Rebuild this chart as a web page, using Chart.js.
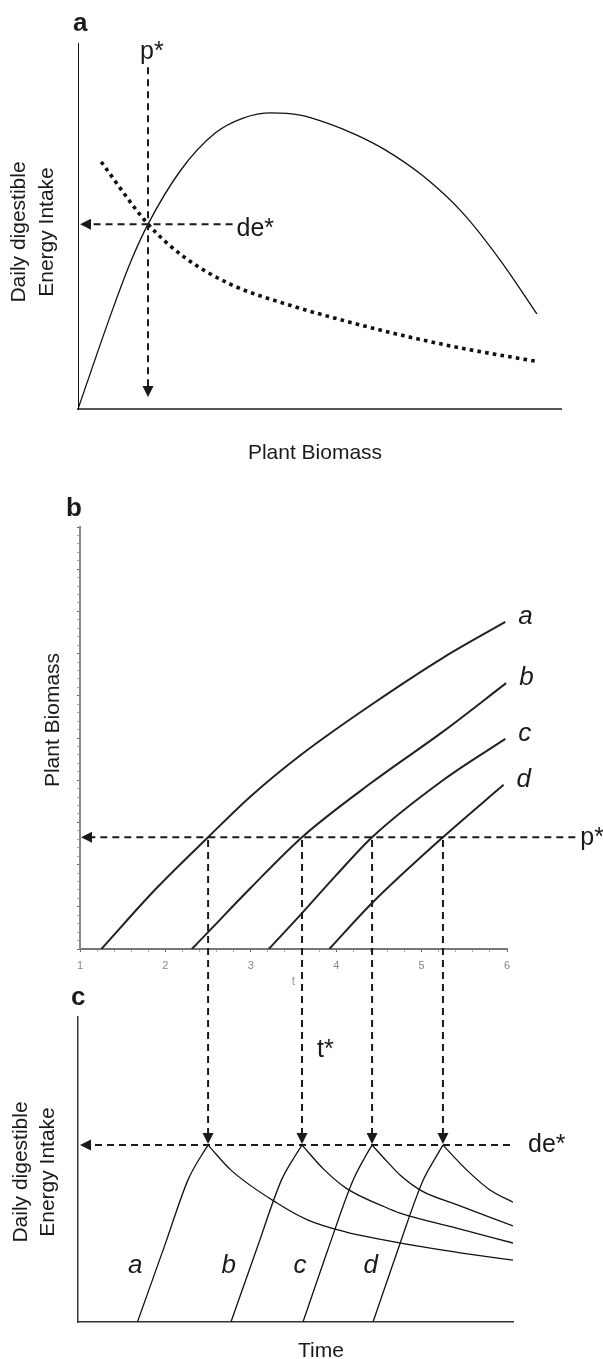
<!DOCTYPE html>
<html>
<head>
<meta charset="utf-8">
<title>Plant biomass and daily digestible energy intake</title>
<script src="https://cdn.jsdelivr.net/npm/chart.js@4.4.1/dist/chart.umd.min.js"></script>
<style>
  html, body { margin: 0; padding: 0; background: #fff; }
  #page { position: relative; width: 603px; height: 1359px; overflow: hidden; }
  #page canvas { position: absolute; left: 0; }
</style>
</head>
<body>
<div id="page">
  <canvas id="chartA" width="603" height="470" style="top:0px"></canvas>
  <canvas id="chartB" width="603" height="530" style="top:470px"></canvas>
  <canvas id="chartC" width="603" height="399" style="top:960px"></canvas>
</div>
<script>
const FONT = "'Liberation Sans', Arial, Helvetica, sans-serif";
const INK = '#1a1a1a';

// panel a: energy intake against plant biomass (arbitrary units)
const biomassSolid  = [0, 0.725, 1.1, 1.45, 2.13, 2.84, 3.42, 4.0, 4.6, 5.16, 5.76, 6.36, 7.14, 7.95, 8.74, 9.5];
const intakeSolid   = [0, 2.75, 4.05, 5.05, 6.53, 7.54, 7.95, 8.09, 8.03, 7.81, 7.49, 7.08, 6.37, 5.38, 4.07, 2.6];
const biomassDotted = [0.48, 1.45, 2.2, 3.17, 4.35, 5.55, 6.75, 7.95, 9.5];
const intakeDotted  = [6.75, 5.05, 4.15, 3.4, 2.85, 2.4, 2.0, 1.66, 1.3];
const pStar = 1.45;
const deStar = 5.05;

// panel b: plant biomass regrowth over time t, four cohorts
const growthLetters = ['a', 'b', 'c', 'd'];
const growthT = [
  [1.25, 1.9, 2.5, 3.0, 3.6, 4.42, 5.25, 5.98],
  [2.31, 2.5, 3.0, 3.6, 4.42, 5.25, 5.99],
  [3.21, 3.6, 4.0, 4.42, 5.25, 5.98],
  [3.92, 4.42, 5.25, 5.96]
];
const growthBiomass = [
  [0, 1.45, 2.65, 3.62, 4.62, 5.8, 6.9, 7.75],
  [0, 0.4, 1.45, 2.65, 3.95, 5.15, 6.3],
  [0, 0.85, 1.75, 2.65, 4.0, 4.98],
  [0, 1.09, 2.65, 3.89]
];
const pStarB = 2.65;
const dropTimes = [2.5, 3.6, 4.42, 5.25];

// panel c: daily digestible energy intake, rise then decline after t*
const riseT = [
  [1.673, 2.0, 2.265, 2.42, 2.5],
  [2.768, 3.07, 3.36, 3.52, 3.6],
  [3.611, 3.9, 4.19, 4.34, 4.42],
  [4.431, 4.72, 5.01, 5.17, 5.25]
];
const riseIntake = [
  [0, 2.57, 4.66, 5.45, 5.8],
  [0, 2.4, 4.66, 5.45, 5.8],
  [0, 2.35, 4.6, 5.42, 5.8],
  [0, 2.35, 4.6, 5.42, 5.8]
];
const declineT = [
  [2.5, 2.768, 3.307, 3.67, 4.115, 4.6, 5.016, 5.473, 6.07],
  [3.6, 3.85, 4.115, 4.57, 4.747, 5.41, 6.07],
  [4.42, 4.6, 4.747, 5.0, 5.41, 6.07],
  [5.25, 5.53, 5.8, 6.07]
];
const declineIntake = [
  [5.8, 4.98, 3.9, 3.34, 2.95, 2.67, 2.46, 2.26, 2.03],
  [5.8, 5.02, 4.39, 3.77, 3.57, 3.08, 2.59],
  [5.8, 5.25, 4.82, 4.3, 3.85, 3.15],
  [5.8, 4.98, 4.33, 3.93]
];
const deStarC = 5.8;

const B_TOP = 470, C_TOP = 960, SEAM = 985;

function toPoints(xs, ys) {
  return xs.map((x, i) => ({ x: x, y: ys[i] }));
}

function curve(xs, ys, extra) {
  return Object.assign({
    data: toPoints(xs, ys),
    showLine: true,
    pointRadius: 0,
    borderColor: '#111',
    borderWidth: 1.3,
    cubicInterpolationMode: 'monotone',
    fill: false
  }, extra);
}

function isWhole(v) {
  return Math.abs(v - Math.round(v)) < 1e-6;
}

function sizeTo(px) {
  return function (scale) {
    if (scale.isHorizontal()) scale.height = px; else scale.width = px;
  };
}

function plainAxis(min, max, border) {
  return {
    type: 'linear', min: min, max: max,
    grid: { display: false, drawTicks: false },
    ticks: { display: false },
    border: border,
    afterFit: sizeTo(0)
  };
}

function dashed(ctx, x1, y1, x2, y2, offset) {
  ctx.save();
  ctx.strokeStyle = INK;
  ctx.lineWidth = 2;
  ctx.setLineDash([7, 5]);
  ctx.lineDashOffset = offset || 0;
  ctx.beginPath();
  ctx.moveTo(x1, y1);
  ctx.lineTo(x2, y2);
  ctx.stroke();
  ctx.restore();
}

function arrowHead(ctx, x, y, dir) {
  const L = 11, W = 5.5;
  ctx.save();
  ctx.fillStyle = INK;
  ctx.beginPath();
  ctx.moveTo(x, y);
  if (dir === 'left') {
    ctx.lineTo(x + L, y - W);
    ctx.lineTo(x + L, y + W);
  } else {
    ctx.lineTo(x - W, y - L);
    ctx.lineTo(x + W, y - L);
  }
  ctx.closePath();
  ctx.fill();
  ctx.restore();
}

function label(ctx, str, x, y, size, style, align) {
  ctx.save();
  ctx.font = (style || '') + ' ' + size + 'px ' + FONT;
  ctx.fillStyle = INK;
  ctx.textAlign = align || 'left';
  ctx.textBaseline = 'alphabetic';
  ctx.fillText(str, x, y);
  ctx.restore();
}

function vlabel(ctx, str, x, y, size) {
  ctx.save();
  ctx.translate(x, y);
  ctx.rotate(-Math.PI / 2);
  ctx.font = size + 'px ' + FONT;
  ctx.fillStyle = INK;
  ctx.textAlign = 'center';
  ctx.textBaseline = 'alphabetic';
  ctx.fillText(str, 0, 0);
  ctx.restore();
}

const baseOptions = {
  responsive: false,
  animation: false,
  events: [],
  plugins: { legend: { display: false }, tooltip: { enabled: false } }
};

// ---------- panel a ----------
const guidesA = {
  id: 'guidesA',
  afterDraw(chart) {
    const { ctx, scales: { x, y } } = chart;
    const px = x.getPixelForValue(pStar);
    const py = y.getPixelForValue(deStar);
    const tipY = y.getPixelForValue(0.33);
    dashed(ctx, px, y.getPixelForValue(9.34), px, tipY - 11, 0);
    arrowHead(ctx, px, tipY, 'down');
    const endX = x.getPixelForValue(3.2);
    dashed(ctx, endX, py, x.left + 12, py, 0);
    arrowHead(ctx, x.left + 2, py, 'left');

    label(ctx, 'a', 73, 31, 26, 'bold');
    label(ctx, 'p*', px - 8, 59, 25);
    label(ctx, 'de*', endX + 4, py + 12, 25);
    label(ctx, 'Plant Biomass', 315, 459, 21, '', 'center');
    vlabel(ctx, 'Daily digestible', 25, 232, 21);
    vlabel(ctx, 'Energy Intake', 53, 232, 21);
  }
};

new Chart(document.getElementById('chartA'), {
  type: 'scatter',
  data: {
    datasets: [
      curve(biomassSolid, intakeSolid, { borderWidth: 1.3 }),
      curve(biomassDotted, intakeDotted, { borderWidth: 3.6, borderDash: [3.6, 4.2] })
    ]
  },
  options: Object.assign({}, baseOptions, {
    layout: { padding: { left: 78, top: 43, right: 42, bottom: 61 } },
    scales: {
      x: plainAxis(0, 10, { color: '#555', width: 2 }),
      y: plainAxis(0, 10, { color: '#111', width: 1 })
    }
  }),
  plugins: [guidesA]
});

// ---------- panel b ----------
const tickMarks = {
  display: true,
  drawOnChartArea: false,
  drawTicks: true,
  tickLength: 3,
  tickWidth: 1,
  tickColor: c => (c.tick && isWhole(c.tick.value)) ? '#666' : '#aaa'
};

const guidesB = {
  id: 'guidesB',
  afterDraw(chart) {
    const { ctx, scales: { x, y } } = chart;
    const py = y.getPixelForValue(pStarB);
    const endX = x.getPixelForValue(6.8);
    dashed(ctx, endX, py, x.left + 11, py, 0);
    arrowHead(ctx, x.left + 1, py, 'left');
    dropTimes.forEach(t => {
      const px = x.getPixelForValue(t);
      dashed(ctx, px, py, px, SEAM - B_TOP, B_TOP + py);
    });
    label(ctx, 'p*', endX + 5, py + 8, 25);
    label(ctx, 'b', 66, 516 - B_TOP, 26, 'bold');
    vlabel(ctx, 'Plant Biomass', 59, 720 - B_TOP, 21);

    growthLetters.forEach((name, i) => {
      const ts = growthT[i], vs = growthBiomass[i];
      const ex = x.getPixelForValue(ts[ts.length - 1]);
      const ey = y.getPixelForValue(vs[vs.length - 1]);
      label(ctx, name, ex + 13, ey + 2, 26, 'italic');
    });
  }
};

new Chart(document.getElementById('chartB'), {
  type: 'scatter',
  data: {
    datasets: growthT.map((ts, i) => curve(ts, growthBiomass[i], { borderWidth: 2, borderColor: '#222' }))
  },
  options: Object.assign({}, baseOptions, {
    layout: { padding: { left: 80, top: 57, right: 96, bottom: 11 } },
    scales: {
      x: {
        type: 'linear', min: 1, max: 6,
        border: { color: '#777', width: 2 },
        grid: tickMarks,
        ticks: {
          stepSize: 0.2, autoSkip: false, maxRotation: 0, maxTicksLimit: 1000,
          padding: 7, color: '#888', font: { family: FONT, size: 11 },
          callback: v => isWhole(v) ? String(Math.round(v)) : ''
        },
        title: { display: true, text: 't', color: '#999', font: { family: FONT, size: 12 }, padding: 0 },
        afterFit: sizeTo(40)
      },
      y: {
        type: 'linear', min: 0, max: 10,
        border: { color: '#888', width: 2 },
        grid: tickMarks,
        ticks: { display: false, stepSize: 0.2, autoSkip: false, maxTicksLimit: 1000 },
        afterFit: sizeTo(0)
      }
    }
  }),
  plugins: [guidesB]
});

// ---------- panel c ----------
const guidesC = {
  id: 'guidesC',
  afterDraw(chart) {
    const { ctx, scales: { x, y } } = chart;
    const py = y.getPixelForValue(deStarC);
    const endX = x.getPixelForValue(6.035);
    dashed(ctx, endX, py, x.left + 12, py, 0);
    arrowHead(ctx, x.left + 2, py, 'left');
    dropTimes.forEach(t => {
      const px = x.getPixelForValue(t);
      dashed(ctx, px, SEAM - C_TOP, px, py - 12, SEAM);
      arrowHead(ctx, px, py - 1, 'down');
    });
    label(ctx, 'de*', endX + 18, py + 7, 25);
    label(ctx, 't*', x.getPixelForValue(dropTimes[1]) + 15, 1057 - C_TOP, 25);
    label(ctx, 'c', 71, 1005 - C_TOP, 26, 'bold');
    label(ctx, 'Time', 321, 1357 - C_TOP, 21, '', 'center');
    vlabel(ctx, 'Daily digestible', 27, 1172 - C_TOP, 21);
    vlabel(ctx, 'Energy Intake', 54, 1172 - C_TOP, 21);

    growthLetters.forEach((name, i) => {
      label(ctx, name, x.getPixelForValue(riseT[i][0]) - 9.5, 1273 - C_TOP, 26, 'italic');
    });
  }
};

const intakeSets = [];
riseT.forEach((ts, i) => {
  intakeSets.push(curve(ts, riseIntake[i]));
  intakeSets.push(curve(declineT[i], declineIntake[i]));
});

new Chart(document.getElementById('chartC'), {
  type: 'scatter',
  data: { datasets: intakeSets },
  options: Object.assign({}, baseOptions, {
    layout: { padding: { left: 78, top: 57, right: 90, bottom: 37 } },
    scales: {
      x: plainAxis(0.977, 6.07, { color: '#333', width: 1.5 }),
      y: plainAxis(0, 10, { color: '#333', width: 1.5 })
    }
  }),
  plugins: [guidesC]
});
</script>
</body>
</html>
